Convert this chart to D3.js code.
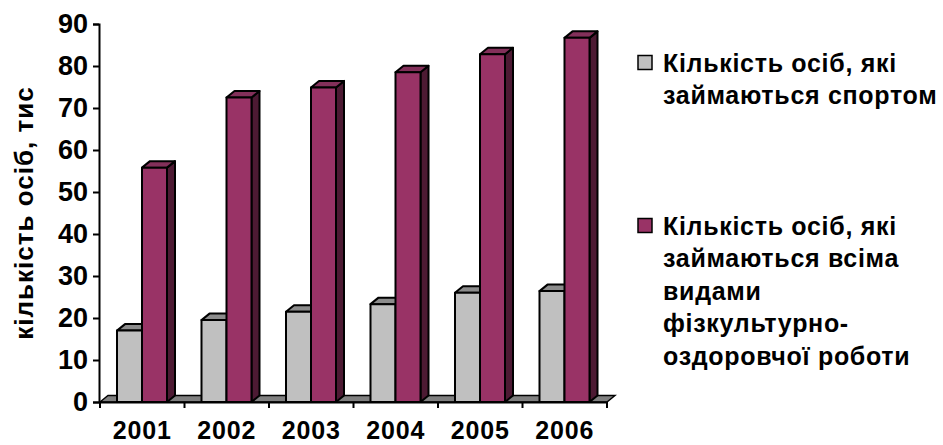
<!DOCTYPE html>
<html>
<head>
<meta charset="utf-8">
<script src="https://cdn.jsdelivr.net/npm/d3@7"></script>
<style>
  body { margin: 0; background: #fff; }
  text { font-family: "Liberation Sans", Arial, sans-serif; font-weight: bold; fill: #000; }
</style>
</head>
<body>
<div id="chart"></div>
<script>
const years = ["2001", "2002", "2003", "2004", "2005", "2006"];
const sportValues = [17.0, 19.5, 21.5, 23.3, 26.0, 26.4];
const allValues = [55.8, 72.5, 74.9, 78.5, 82.8, 86.7];
const yTicks = [0, 10, 20, 30, 40, 50, 60, 70, 80, 90];
const seriesNames = ["sport", "all"];
const legendSport = ["Кількість осіб, які", "займаються спортом"];
const legendAll = ["Кількість осіб, які", "займаються всіма", "видами", "фізкультурно-", "оздоровчої роботи"];
const yTitle = "кількість осіб, тис";

const width = 943, height = 445;
const depth = {dx: 8, dy: -6.5};

const colours = {
    sport: {front: "#c0c0c0", top: "#8c8c8c", side: "#6e6e6e"},
    all: {front: "#993366", top: "#83305a", side: "#4d1a33"}
};

const svg = d3.select("#chart")
    .append("svg")
    .attr("width", width)
    .attr("height", height);

const xScale = d3.scaleBand()
    .domain(years)
    .range([100, 607])
    .padding(0);

const seriesScale = d3.scaleBand()
    .domain(seriesNames)
    .range([17, 67])
    .padding(0);

const yScale = d3.scaleLinear()
    .domain([0, 90])
    .range([402, 24]);

// floor
const y0 = yScale(0);
const floorPts = [
    [xScale.range()[0], y0],
    [xScale.range()[1], y0],
    [xScale.range()[1] + depth.dx, y0 + depth.dy],
    [xScale.range()[0] + depth.dx, y0 + depth.dy]
];
svg.append("polygon")
    .attr("points", floorPts.map(p => p.join(",")).join(" "))
    .attr("fill", "#808080")
    .attr("stroke", "#000")
    .attr("stroke-width", 1.4);

// 3d columns
function drawColumn(g, x, w, value, c) {
    const top = yScale(value);
    const faces = [
        {pts: [[x + w, top], [x + w + depth.dx, top + depth.dy], [x + w + depth.dx, y0 + depth.dy], [x + w, y0]], fill: c.side},
        {pts: [[x, top], [x + depth.dx, top + depth.dy], [x + w + depth.dx, top + depth.dy], [x + w, top]], fill: c.top},
        {pts: [[x, top], [x + w, top], [x + w, y0], [x, y0]], fill: c.front}
    ];
    faces.forEach(function (f) {
        g.append("polygon")
            .attr("points", f.pts.map(p => p.join(",")).join(" "))
            .attr("fill", f.fill)
            .attr("stroke", "#000")
            .attr("stroke-width", 2)
            .attr("stroke-linejoin", "round");
    });
}

const bars = svg.append("g");
years.forEach(function (year, i) {
    const g = bars.append("g");
    drawColumn(g, xScale(year) + seriesScale("sport"), seriesScale.bandwidth(), sportValues[i], colours.sport);
    drawColumn(g, xScale(year) + seriesScale("all"), seriesScale.bandwidth(), allValues[i], colours.all);
});

// y axis
const yAxis = svg.append("g")
    .attr("transform", "translate(99,0)")
    .call(d3.axisLeft(yScale).tickValues(yTicks).tickSize(6).tickPadding(5).tickFormat(d3.format("d")));
yAxis.select(".domain").attr("stroke-width", 2);
yAxis.selectAll(".tick line").attr("stroke-width", 2);
yAxis.selectAll(".tick text").style("font-size", "27px").style("font-family", "Liberation Sans, Arial, sans-serif").style("font-weight", "bold");

// x axis
const xAxis = svg.append("g")
    .attr("transform", "translate(0," + y0 + ")")
    .call(d3.axisBottom(xScale).tickSize(0).tickPadding(19));
xAxis.select(".domain").attr("stroke-width", 2);
xAxis.selectAll(".tick text").style("font-size", "25px").style("font-family", "Liberation Sans, Arial, sans-serif").style("font-weight", "bold").style("letter-spacing", "0.8px");
xAxis.selectAll(".cat-tick")
    .data(years.concat(["end"]))
    .enter()
    .append("line")
    .attr("x1", (d, i) => i < years.length ? xScale(d) : xScale.range()[1])
    .attr("x2", (d, i) => i < years.length ? xScale(d) : xScale.range()[1])
    .attr("y1", 0)
    .attr("y2", 6)
    .attr("stroke", "#000")
    .attr("stroke-width", 2);

// y axis title
svg.append("text")
    .attr("transform", "translate(33,213) rotate(-90)")
    .attr("text-anchor", "middle")
    .style("font-size", "26px")
    .style("letter-spacing", "1px")
    .text(yTitle);

// legend
function drawLegend(yTop, colour, lines) {
    const g = svg.append("g");
    g.append("rect")
        .attr("x", 638)
        .attr("y", yTop)
        .attr("width", 14)
        .attr("height", 14)
        .attr("fill", colour)
        .attr("stroke", "#000")
        .attr("stroke-width", 1.5);
    g.selectAll("text")
        .data(lines)
        .enter()
        .append("text")
        .attr("x", 663)
        .attr("y", (d, i) => yTop + 16 + i * 32.5)
        .style("font-size", "25px")
        .style("letter-spacing", "0.7px")
        .text(d => d);
}
drawLegend(55.5, colours.sport.front, legendSport);
drawLegend(218.5, colours.all.front, legendAll);
</script>
</body>
</html>
